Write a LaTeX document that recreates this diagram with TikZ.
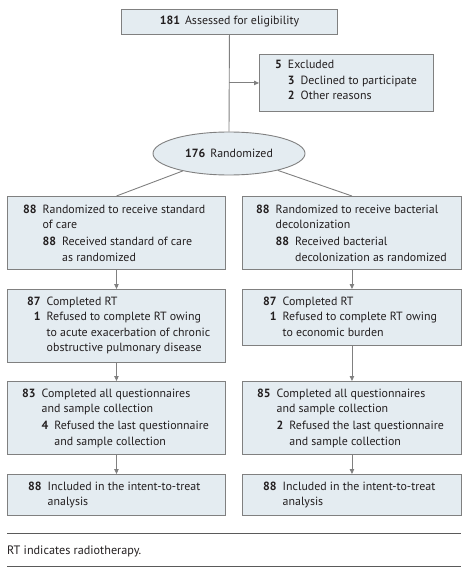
\documentclass[tikz,border=0pt]{standalone}
\usepackage{fontspec}
\setmainfont{PT Sans}
\usetikzlibrary{arrows.meta,shapes.geometric}
\definecolor{boxfill}{HTML}{E4ECF1}
\definecolor{boxline}{HTML}{808080}
\definecolor{txtc}{HTML}{231F20}
\definecolor{rulec}{HTML}{5A5A5A}
\newcommand\nm[1]{\textbf{#1}}
\begin{document}
\begin{tikzpicture}[x=1pt,y=-1pt,
  box/.style={draw=boxline, fill=boxfill, line width=0.9pt, inner sep=0, anchor=north west, font=\fontsize{11.9}{15.5}\selectfont, text=txtc},
  lbl/.style={inner sep=0, anchor=base west, font=\fontsize{11.9}{15.5}\selectfont, text=txtc},
  conn/.style={draw=boxline, line width=0.9pt},
  arr/.style={conn, -{Triangle[length=5pt,width=4.5pt]}},
  rulel/.style={draw=rulec, line width=1pt}]
\useasboundingbox (0,0) rectangle (470,572);
% boxes
\node[box, minimum width=216pt, minimum height=25pt] (top) at (121,9) {\nm{181}\hspace{5pt}Assessed for eligibility};
\node[box, minimum width=174pt, minimum height=57pt] (excl) at (259,54) {};
\node[box, ellipse, anchor=center, minimum width=152pt, minimum height=43pt] (rand) at (229,153.5) {\nm{176}\hspace{5pt}Randomized};
\node[box, minimum width=218pt, minimum height=73pt] (L1) at (7,196) {};
\node[box, minimum width=219pt, minimum height=73pt] (R1) at (242,196) {};
\node[box, minimum width=218pt, minimum height=73pt] (L2) at (7,289) {};
\node[box, minimum width=219pt, minimum height=56pt] (R2) at (242,289) {};
\node[box, minimum width=218pt, minimum height=73pt] (L3) at (7,381) {};
\node[box, minimum width=219pt, minimum height=73pt] (R3) at (242,381) {};
\node[box, minimum width=218pt, minimum height=41pt] (L4) at (7,474) {};
\node[box, minimum width=219pt, minimum height=41pt] (R4) at (242,474) {};
% texts
\node[lbl] (exclt) at (275,69) {\begin{tabular}[t]{@{}r@{\hspace{6pt}}l@{}}
\nm{5} & Excluded\\
 & \begin{tabular}[t]{@{}r@{\hspace{6pt}}l@{}}\nm{3} & Declined to participate\\ \nm{2} & Other reasons\end{tabular}
\end{tabular}};
\node[lbl] (L1t) at (23,213) {\begin{tabular}[t]{@{}r@{\hspace{6pt}}l@{}}
\nm{88} & Randomized to receive standard\\
 & of care\\[1.5pt]
 & \begin{tabular}[t]{@{}r@{\hspace{6pt}}l@{}}\nm{88} & Received standard of care\\ & as randomized\end{tabular}
\end{tabular}};
\node[lbl] (R1t) at (256,213) {\begin{tabular}[t]{@{}r@{\hspace{6pt}}l@{}}
\nm{88} & Randomized to receive bacterial\\
 & decolonization\\[1.5pt]
 & \begin{tabular}[t]{@{}r@{\hspace{6pt}}l@{}}\nm{88} & Received bacterial\\ & decolonization as randomized\end{tabular}
\end{tabular}};
\node[lbl] (L2t) at (27,305) {\begin{tabular}[t]{@{}r@{\hspace{6pt}}l@{}}
\nm{87} & Completed RT\\
\nm{1} & Refused to complete RT owing\\
 & to acute exacerbation of chronic\\
 & obstructive pulmonary disease
\end{tabular}};
\node[lbl] (R2t) at (263,305) {\begin{tabular}[t]{@{}r@{\hspace{6pt}}l@{}}
\nm{87} & Completed RT\\
\nm{1} & Refused to complete RT owing\\
 & to economic burden
\end{tabular}};
\node[lbl] (L3t) at (22,397) {\begin{tabular}[t]{@{}r@{\hspace{6pt}}l@{}}
\nm{83} & Completed all questionnaires\\
 & and sample collection\\[1.5pt]
 & \begin{tabular}[t]{@{}r@{\hspace{6pt}}l@{}}\nm{4} & Refused the last questionnaire\\ & and sample collection\end{tabular}
\end{tabular}};
\node[lbl] (R3t) at (257,397) {\begin{tabular}[t]{@{}r@{\hspace{6pt}}l@{}}
\nm{85} & Completed all questionnaires\\
 & and sample collection\\[1.5pt]
 & \begin{tabular}[t]{@{}r@{\hspace{6pt}}l@{}}\nm{2} & Refused the last questionnaire\\ & and sample collection\end{tabular}
\end{tabular}};
\node[lbl] (L4t) at (28,490) {\begin{tabular}[t]{@{}r@{\hspace{6pt}}l@{}}
\nm{88} & Included in the intent-to-treat\\
 & analysis
\end{tabular}};
\node[lbl] (R4t) at (263,490) {\begin{tabular}[t]{@{}r@{\hspace{6pt}}l@{}}
\nm{88} & Included in the intent-to-treat\\
 & analysis
\end{tabular}};
% connectors
\draw[conn] (top.south) -- (rand.north);
\coordinate (branch) at (top.south |- excl.west);
\draw[arr] (branch) -- (excl.west);
\draw[conn] (rand) -- (L1.north);
\draw[conn] (rand) -- (R1.north);
\draw[arr] (L1.south) -- (L2.north);
\draw[arr] (L2.south) -- (L3.north);
\draw[arr] (L3.south) -- (L4.north);
\draw[arr] (R1.south) -- (R2.north);
\draw[arr] (R2.south) -- (R3.north);
\draw[arr] (R3.south) -- (R4.north);
% footnote
\draw[rulel] (7,533) -- (461,533);
\node[lbl, font=\fontsize{12.2}{15}\selectfont] (fn) at (7,554) {RT indicates radiotherapy.};
\draw[rulel] (7,566) -- (461,566);
\end{tikzpicture}
\end{document}
